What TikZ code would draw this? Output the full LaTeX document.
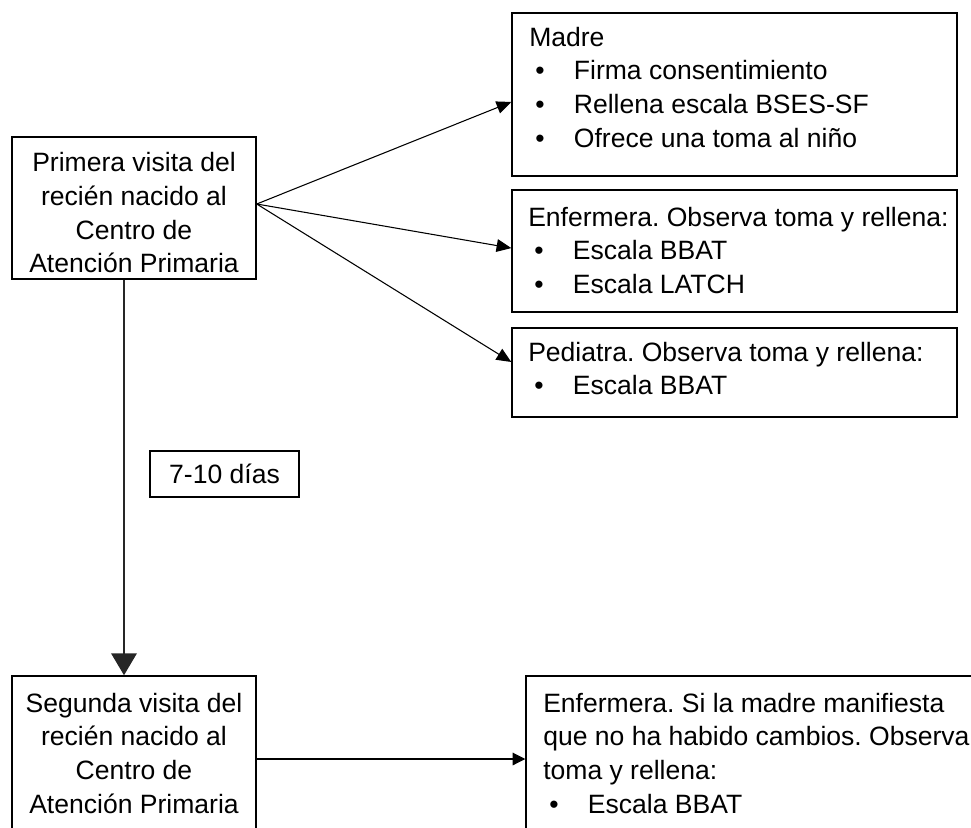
\documentclass[tikz,border=0pt]{standalone}
\usepackage{fontspec}
\setmainfont{Liberation Sans}
\usetikzlibrary{arrows.meta,fit}
\frenchspacing
\newcommand\bitem[1]{\hspace*{4.5pt}\makebox[29pt][l]{•}#1}
\tikzset{
  box/.style={draw=black, line width=1.1pt, inner sep=0pt, fill=none},
  txt/.style={inner sep=0pt, font=\fontsize{19.9}{25.3}\selectfont\frenchspacing, text=black},
  arr/.style={draw=black, line width=0.8pt, -{Triangle[length=11pt,width=9.5pt]}},
  bigarr/.style={draw=black!85, line width=2pt, -{Triangle[length=16.5pt,width=19pt]}},
  smallarr/.style={draw=black, line width=0.8pt, -{Triangle[length=9.5pt,width=9.5pt]}}
}
\begin{document}
\begin{tikzpicture}[x=0.75pt,y=-0.75pt]
\useasboundingbox (0,0) rectangle (971,828);
\clip (0,0) rectangle (971,828);
% corner coordinates
\coordinate (m1) at (512,13);  \coordinate (m2) at (957,176);
\coordinate (e1) at (512,190); \coordinate (e2) at (957,312);
\coordinate (p1) at (512,328); \coordinate (p2) at (957,417);
\coordinate (a1) at (12,137);  \coordinate (a2) at (256,279);
\coordinate (s1) at (12,676);  \coordinate (s2) at (256,842);
\coordinate (r1) at (526,676); \coordinate (r2) at (995,842);
% boxes
\node[box, fit=(m1)(m2)] (madre) {};
\node[box, fit=(e1)(e2)] (enf) {};
\node[box, fit=(p1)(p2)] (ped) {};
\node[box, fit=(a1)(a2)] (prim) {};
\node[box, fit=(s1)(s2)] (seg) {};
\node[box, fit=(r1)(r2)] (res) {};
\node[box, txt, minimum width=111.75pt, minimum height=34.5pt] (dias) at (224.5,474) {7-10 días};
% texts
\node[txt, anchor=base west] (madreT) at (529,46) {\parbox[t]{330pt}{\raggedright Madre\\
  \bitem{Firma consentimiento}\\
  \bitem{Rellena escala BSES-SF}\\
  \bitem{Ofrece una toma al niño}}};
\node[txt, anchor=base west] (enfT) at (528,226) {\parbox[t]{330pt}{\raggedright Enfermera. Observa toma y rellena:\\
  \bitem{Escala BBAT}\\
  \bitem{Escala LATCH}}};
\node[txt, anchor=base west] (pedT) at (528,361) {\parbox[t]{330pt}{\raggedright Pediatra. Observa toma y rellena:\\
  \bitem{Escala BBAT}}};
\node[txt, anchor=base] (primT) at (134,171.7) {\parbox[t]{180pt}{\centering Primera visita del\\
  recién nacido al\\ Centro de\\ Atención Primaria}};
\node[txt, anchor=base] (segT) at (134,712) {\parbox[t]{180pt}{\centering Segunda visita del\\
  recién nacido al\\ Centro de\\ Atención Primaria}};
\node[txt, anchor=base west] (resT) at (543,712) {\parbox[t]{360pt}{\raggedright Enfermera. Si la madre manifiesta\\
  que no ha habido cambios. Observa\\
  toma y rellena:\\
  \bitem{Escala BBAT}}};
% connectors
\draw[arr] ([yshift=3pt]prim.east) -- ([yshift=-5.6pt]madre.west);
\draw[arr] ([yshift=3pt]prim.east) -- ([yshift=2.2pt]enf.west);
\draw[arr] ([yshift=3pt]prim.east) -- ([yshift=7.9pt]ped.west);
\draw[bigarr] ([xshift=-7.5pt]prim.south) -- ([xshift=-7.5pt]seg.north);
\draw[smallarr] (seg.east) -- (res.west);
\end{tikzpicture}
\end{document}
